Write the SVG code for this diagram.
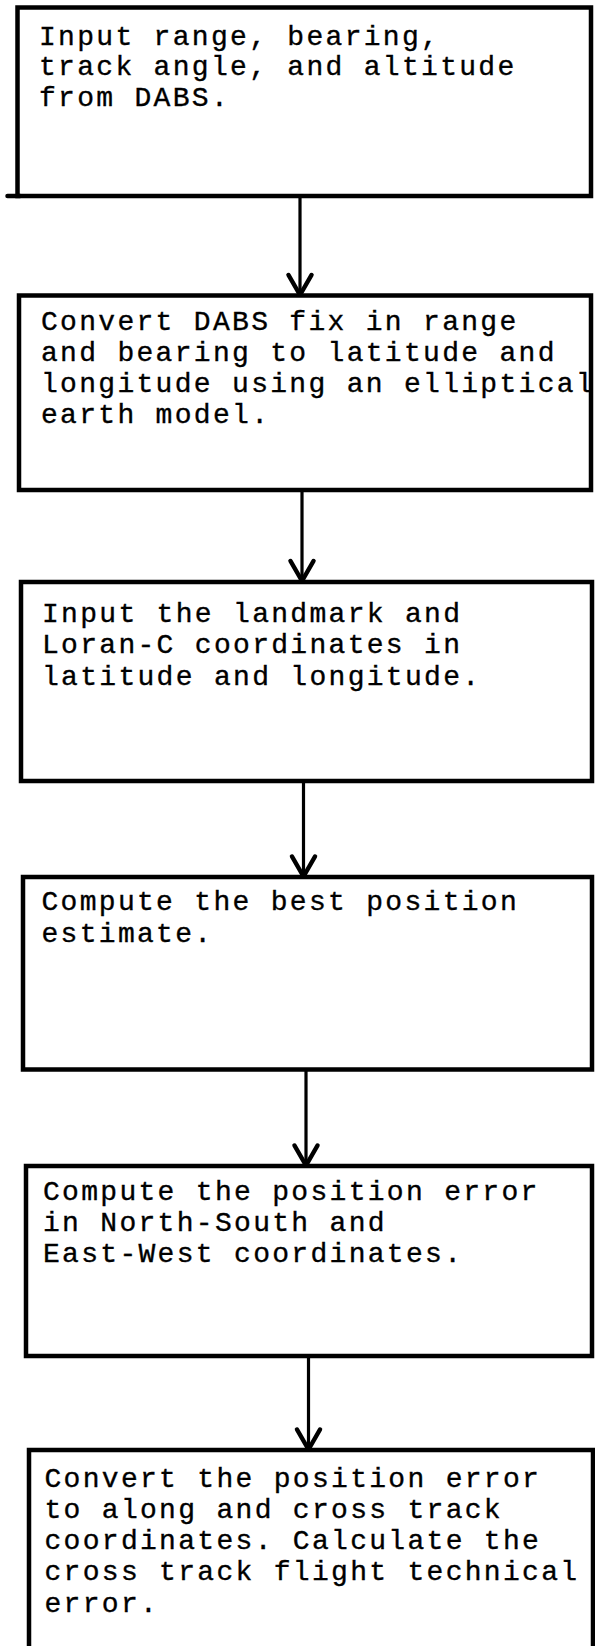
<svg xmlns="http://www.w3.org/2000/svg" width="595" height="1646" viewBox="0 0 595 1646">
<style>
.box{fill:#fff;stroke:#000;stroke-width:4.5}
.conn{stroke:#000;stroke-width:3.2;fill:none}
.t{font-family:"Liberation Mono","DejaVu Sans Mono",monospace;font-size:28px;letter-spacing:2.3px;fill:#000;stroke:#000;stroke-width:0.35}
</style>
<defs>
<marker id="arr" markerUnits="userSpaceOnUse" viewBox="-24 -16 28 32" markerWidth="28" markerHeight="32" refX="0" refY="0" orient="auto" overflow="visible">
<path d="M-20,-11.5 L0,0 L-20,11.5" fill="none" stroke="#000" stroke-width="4.5" stroke-linecap="round" stroke-linejoin="round"/>
</marker>
</defs>
<rect width="595" height="1646" fill="#fff"/>
<g id="connectors">
<line class="conn" x1="300" y1="196" x2="300" y2="295" marker-end="url(#arr)"/>
<line class="conn" x1="302" y1="490" x2="302" y2="581" marker-end="url(#arr)"/>
<line class="conn" x1="303.5" y1="781" x2="303.5" y2="876.5" marker-end="url(#arr)"/>
<line class="conn" x1="306" y1="1069.5" x2="306" y2="1165.5" marker-end="url(#arr)"/>
<line class="conn" x1="308.5" y1="1356" x2="308.5" y2="1449.5" marker-end="url(#arr)"/>
</g>
<g id="n1">
<rect class="box" x="17.5" y="7.5" width="573.5" height="188.5"/>
<line x1="7.5" y1="196" x2="20" y2="196" stroke="#000" stroke-width="4.5" stroke-linecap="round"/>
<text class="t" x="39" y="44.5">Input range, bearing,</text>
<text class="t" x="39" y="75">track angle, and altitude</text>
<text class="t" x="39" y="105.5">from DABS.</text>
</g>
<g id="n2">
<rect class="box" x="19" y="295.5" width="572" height="194.5"/>
<text class="t" x="41" y="330">Convert DABS fix in range</text>
<text class="t" x="41" y="361">and bearing to latitude and</text>
<text class="t" x="41" y="392">longitude using an elliptical</text>
<text class="t" x="41" y="423">earth model.</text>
</g>
<g id="n3">
<rect class="box" x="21" y="582" width="571" height="199"/>
<text class="t" x="42" y="621.5">Input the landmark and</text>
<text class="t" x="42" y="653">Loran-C coordinates in</text>
<text class="t" x="42" y="685">latitude and longitude.</text>
</g>
<g id="n4">
<rect class="box" x="23" y="877" width="569" height="192.5"/>
<text class="t" x="41.5" y="910">Compute the best position</text>
<text class="t" x="41.5" y="941.5">estimate.</text>
</g>
<g id="n5">
<rect class="box" x="26" y="1166" width="566" height="190"/>
<text class="t" x="43" y="1200">Compute the position error</text>
<text class="t" x="43" y="1230.5">in North-South and</text>
<text class="t" x="43" y="1261.5">East-West coordinates.</text>
</g>
<g id="n6">
<rect class="box" x="29" y="1450" width="564" height="260"/>
<text class="t" x="44.5" y="1487">Convert the position error</text>
<text class="t" x="44.5" y="1518">to along and cross track</text>
<text class="t" x="44.5" y="1549">coordinates. Calculate the</text>
<text class="t" x="44.5" y="1580">cross track flight technical</text>
<text class="t" x="44.5" y="1612">error.</text>
</g>
</svg>
